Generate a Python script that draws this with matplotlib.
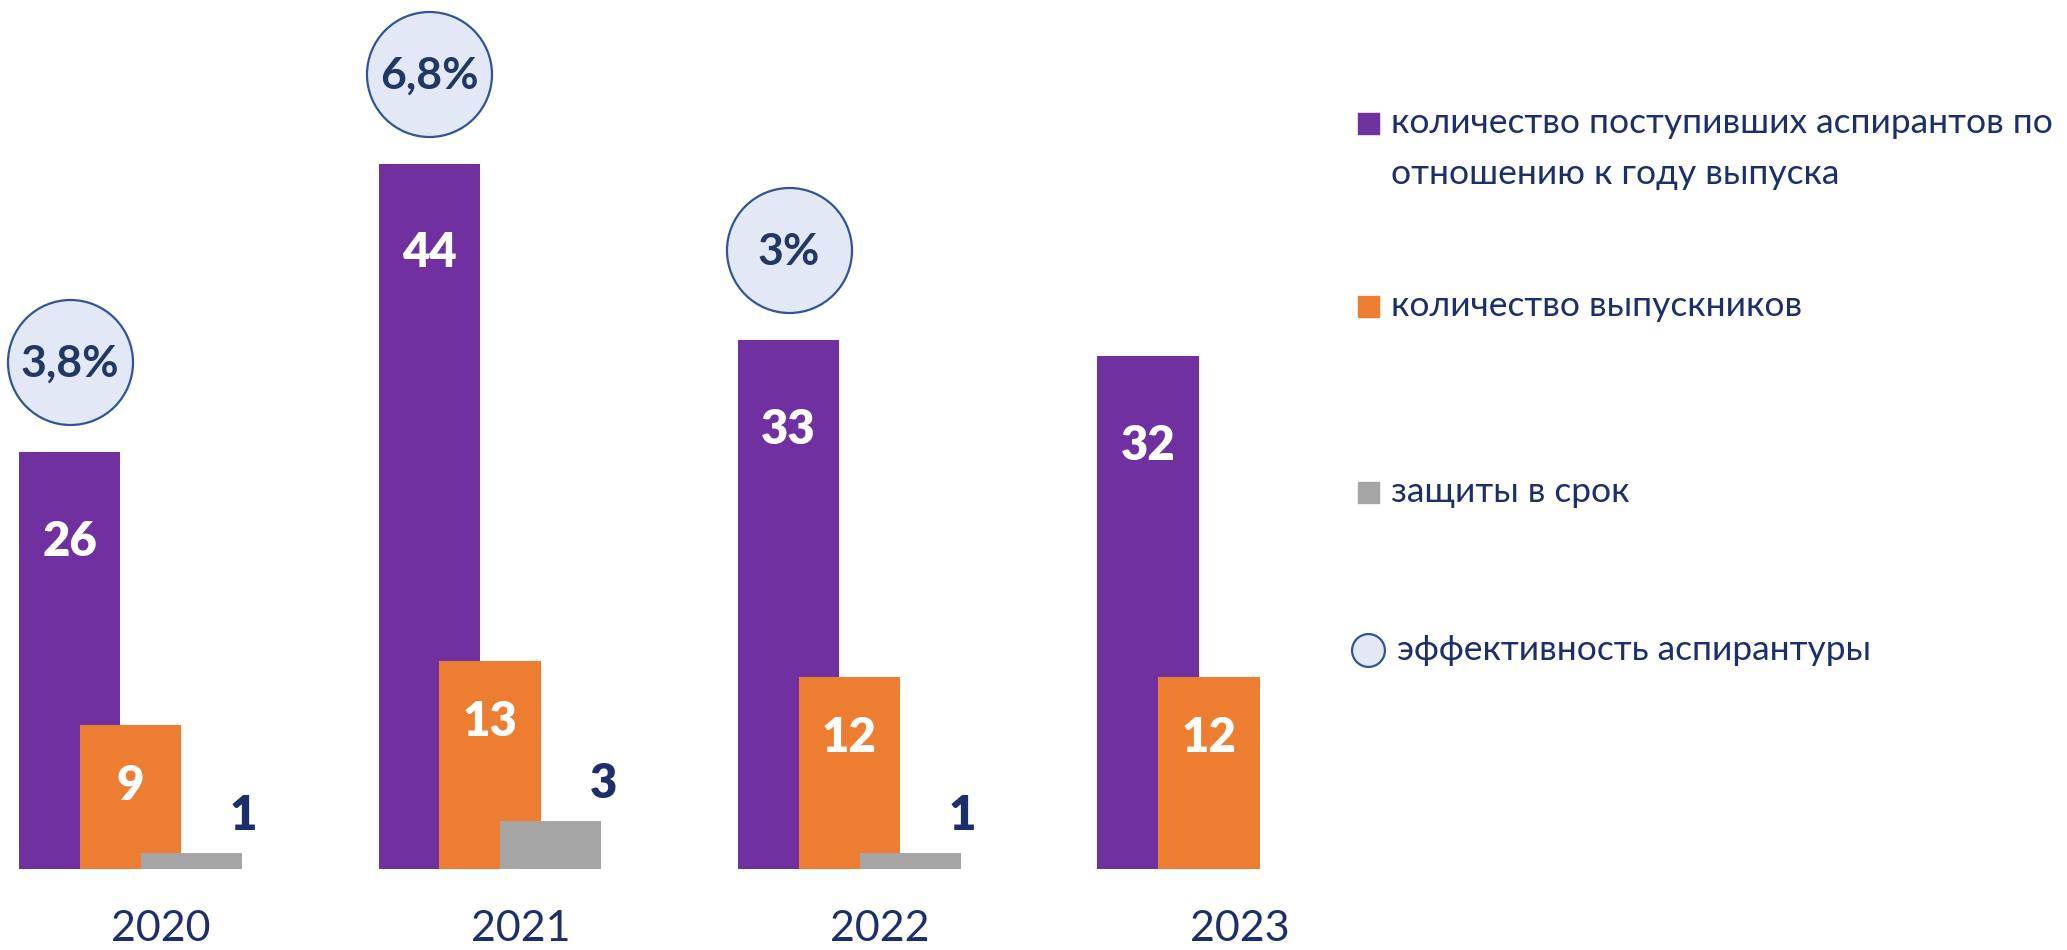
import matplotlib.pyplot as plt
from matplotlib.patches import Rectangle
import numpy as np

# data
years = ['2020', '2021', '2022', '2023']
enrolled = [26, 44, 33, 32]          # количество поступивших аспирантов
graduates = [9, 13, 12, 12]          # количество выпускников
defended = [1, 3, 1, 0]              # защиты в срок
efficiency = ['3,8%', '6,8%', '3%', None]

purple = '#7030A0'
orange = '#ED7D31'
gray = '#A5A5A5'
navy = '#1B2F6B'
bubble_face = '#E2E8F6'
bubble_edge = '#2F5597'

W, H = 2067, 950
fig = plt.figure(figsize=(W / 100, H / 100), dpi=100)
ax = fig.add_axes([0, 0, 1, 1])
ax.set_xlim(-0.363, 5.387)
ax.set_ylim(-5.05, 54.21)
ax.axis('off')

x = np.arange(len(years))
width = 0.282
off = 0.169

ax.bar(x - off, enrolled, width, color=purple, zorder=1)
ax.bar(x, graduates, width, color=orange, zorder=2)
gray_bars = [(xi, v) for xi, v in zip(x, defended) if v > 0]
ax.bar([g[0] + off for g in gray_bars], [g[1] for g in gray_bars], width,
       color=gray, zorder=3)

# values inside bars
for xi, v in zip(x, enrolled):
    ax.text(xi - off, v - 5.6, str(v), color='white', fontsize=34,
            fontweight='heavy', family='Lato', ha='center', va='center', zorder=5)
for xi, v in zip(x, graduates):
    ax.text(xi, v - 3.8, str(v), color='white', fontsize=34,
            fontweight='heavy', family='Lato', ha='center', va='center', zorder=5)
for xi, v in gray_bars:
    ax.text(xi + off + width / 2 + 0.005, v + 2.3, str(v), color=navy,
            fontsize=34, fontweight='heavy', family='Lato', ha='center',
            va='center', zorder=5)

# efficiency bubbles
for xi, v, e in zip(x, enrolled, efficiency):
    if e is None:
        continue
    ax.scatter(xi - off, v + 5.6, s=8100, marker='o', facecolor=bubble_face,
               edgecolor=bubble_edge, linewidth=1.6, zorder=6)
    ax.text(xi - off, v + 5.5, e, color='#1F3864', fontsize=32,
            fontweight='bold', family='Lato',
            ha='center', va='center', zorder=7)

# year labels
for xi, yr in zip(x, years):
    ax.text(xi + 0.085, -3.74, yr, color=navy, fontsize=31, family='Lato',
            fontweight='normal', ha='center', va='center')

# legend drawn by hand on the right
def fx(px):
    return px / W

def fy(py):
    return 1 - py / H

sq = 21
legend_size = 25.5
legend_items = [
    (purple, 123, 'количество поступивших аспирантов по'),
    (orange, 306, 'количество выпускников'),
    (gray, 492, 'защиты в срок'),
]
for col, cy, label in legend_items:
    fig.patches.append(Rectangle((fx(1358), fy(cy + sq / 2)), sq / W, sq / H,
                                 transform=fig.transFigure, color=col))
    fig.text(fx(1391), fy(cy), label, color=navy, fontsize=legend_size,
             family='Lato', ha='left', va='center')
fig.text(fx(1391), fy(174), 'отношению к году выпуска', color=navy,
         fontsize=legend_size, family='Lato', ha='left', va='center')

lax = fig.add_axes([0, 0, 1, 1], facecolor='none')
lax.set_xlim(0, W)
lax.set_ylim(H, 0)
lax.axis('off')
lax.scatter([1368], [650], s=560, marker='o', facecolor=bubble_face,
            edgecolor=bubble_edge, linewidth=1.6)
fig.text(fx(1397), fy(650), 'эффективность аспирантуры', color=navy,
         fontsize=legend_size, family='Lato', ha='left', va='center')

fig.savefig('out.png', dpi=100)
